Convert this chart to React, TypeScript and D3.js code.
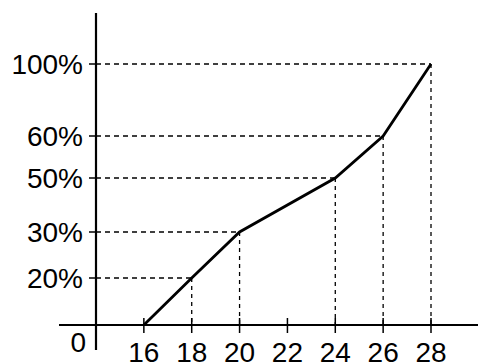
import React from "react";
import * as d3 from "d3";

const xValues = [16, 18, 20, 24, 26, 28];
const yValues = [0, 20, 30, 50, 60, 100];
const xTicks = [16, 18, 20, 22, 24, 26, 28];
const yTicks = [20, 30, 50, 60, 100];
const yTickLabels = ["20%", "30%", "50%", "60%", "100%"];

const W = 478;
const H = 363;

export default function App() {
  const x = d3.scaleLinear().domain([14, 28]).range([96, 431]);
  // the sketch's y spacing is not uniform; use a piecewise scale
  const y = d3
    .scaleLinear()
    .domain([0, 20, 30, 50, 60, 100])
    .range([325, 278, 232, 178, 136, 64]);

  const pts = xValues.map((v, i) => [x(v), y(yValues[i])] as [number, number]);
  const line = d3.line()(pts) || "";
  const font = "'Liberation Sans', Arial, sans-serif";
  const fs = 28;

  return (
    <svg
      width={W}
      height={H}
      style={{ position: "absolute", left: 0, top: 0 }}
    >
      {/* guides */}
      {pts.slice(1).map(([px, py], i) => (
        <g key={i}>
          <line x1={x(14)} x2={px} y1={py} y2={py} stroke="#000" strokeWidth={1.3} strokeDasharray="5,4" />
          <line x1={px} x2={px} y1={py} y2={y(0)} stroke="#000" strokeWidth={1.3} strokeDasharray="4,4" />
        </g>
      ))}
      {/* axes */}
      <line x1={59} x2={W} y1={y(0)} y2={y(0)} stroke="#000" strokeWidth={2.2} />
      <line x1={x(14)} x2={x(14)} y1={13} y2={350} stroke="#000" strokeWidth={2.2} />
      {xTicks.map((t) => (
        <g key={t}>
          <line x1={x(t)} x2={x(t)} y1={y(0) - 7} y2={y(0) + 8} stroke="#000" strokeWidth={1.5} />
          <text x={x(t)} y={361.5} textAnchor="middle" fontSize={fs} fontFamily={font} fill="#000">
            {t}
          </text>
        </g>
      ))}
      {yTicks.map((t, i) => (
        <g key={t}>
          <line x1={x(14) - 7} x2={x(14) + 1} y1={y(t)} y2={y(t)} stroke="#000" strokeWidth={1.5} />
          <text x={83} y={y(t)} dy="0.36em" textAnchor="end" fontSize={fs} fontFamily={font} fill="#000">
            {yTickLabels[i]}
          </text>
        </g>
      ))}
      <text x={86} y={352} textAnchor="end" fontSize={fs} fontFamily={font} fill="#000">
        0
      </text>
      <path d={line} fill="none" stroke="#000" strokeWidth={2.8} strokeLinejoin="miter" />
    </svg>
  );
}
